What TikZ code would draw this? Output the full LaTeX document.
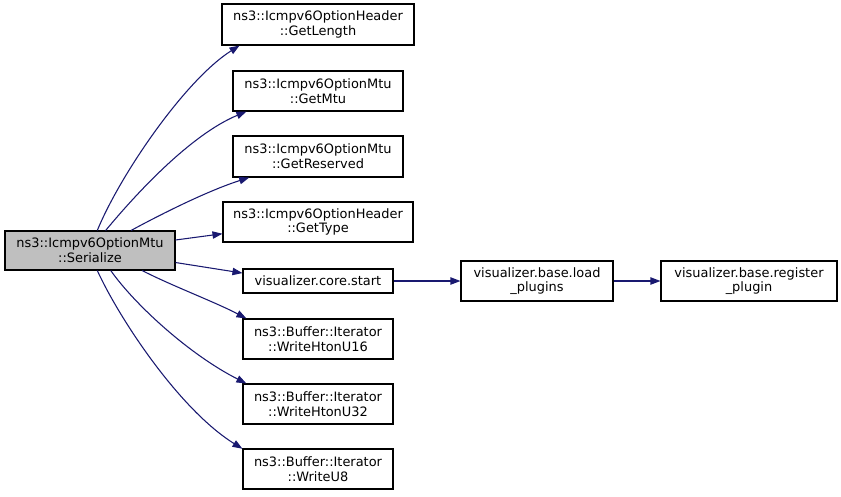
\documentclass[tikz,border=0pt]{standalone}
\usepackage{fontspec}
\setmainfont{DejaVu Sans}
\usetikzlibrary{arrows.meta}
\definecolor{edgeblue}{HTML}{191970}
\definecolor{boxgray}{HTML}{BFBFBF}
\definecolor{boxline}{HTML}{000000}
\begin{document}
\begin{tikzpicture}[x=0.75pt,y=-0.75pt,
  fn/.style={draw=boxline,line width=0.8pt,fill=white,inner sep=0pt,align=center,
    font=\fontsize{9.7}{11}\selectfont},
  call/.style={draw=edgeblue,line width=0.8pt,-{Triangle[length=7.5pt,width=5.5pt]}}]
\useasboundingbox (0,0) rectangle (841,496);
\node[fn,fill=boxgray,minimum width=127.5pt,minimum height=29.25pt] (ser) at (90,250.5) {ns3::Icmpv6OptionMtu\\::Serialize};
\node[fn,minimum width=144pt,minimum height=30.75pt] (gl) at (318,24.5) {ns3::Icmpv6OptionHeader\\::GetLength};
\node[fn,minimum width=127.5pt,minimum height=30pt] (gm) at (318,91) {ns3::Icmpv6OptionMtu\\::GetMtu};
\node[fn,minimum width=127.5pt,minimum height=30.75pt] (gr) at (318,156.5) {ns3::Icmpv6OptionMtu\\::GetReserved};
\node[fn,minimum width=142.5pt,minimum height=30pt] (gt) at (318,222) {ns3::Icmpv6OptionHeader\\::GetType};
\node[fn,minimum width=112.5pt,minimum height=18pt] (cs) at (318,281) {visualizer.core.start};
\node[fn,minimum width=114pt,minimum height=30pt] (lp) at (537,281) {visualizer.base.load\\\_plugins};
\node[fn,minimum width=132pt,minimum height=30pt] (rp) at (749,281) {visualizer.base.register\\\_plugin};
\node[fn,minimum width=112.5pt,minimum height=30pt] (u16) at (318,339) {ns3::Buffer::Iterator\\::WriteHtonU16};
\node[fn,minimum width=112.5pt,minimum height=30pt] (u32) at (318,404) {ns3::Buffer::Iterator\\::WriteHtonU32};
\node[fn,minimum width=112.5pt,minimum height=30pt] (u8) at (318,469) {ns3::Buffer::Iterator\\::WriteU8};
\draw[call] (ser.70) .. controls (120,175) and (185,80) .. (gl.195);
\draw[call] (ser.52) .. controls (135,195) and (190,135) .. (gm.196);
\draw[call] (ser.26) .. controls (165,212) and (210,190) .. (gr.197);
\draw[call] (ser.7) -- (gt.187);
\draw[call] (ser.-8) -- (cs.174);
\draw[call] (ser.-21) .. controls (170,285) and (215,302) .. (u16.164);
\draw[call] (ser.-44) .. controls (135,305) and (190,355) .. (u32.164);
\draw[call] (ser.-70) .. controls (120,320) and (180,410) .. (u8.165);
\draw[call] (cs) -- (lp);
\draw[call] (lp) -- (rp);
\end{tikzpicture}
\end{document}
